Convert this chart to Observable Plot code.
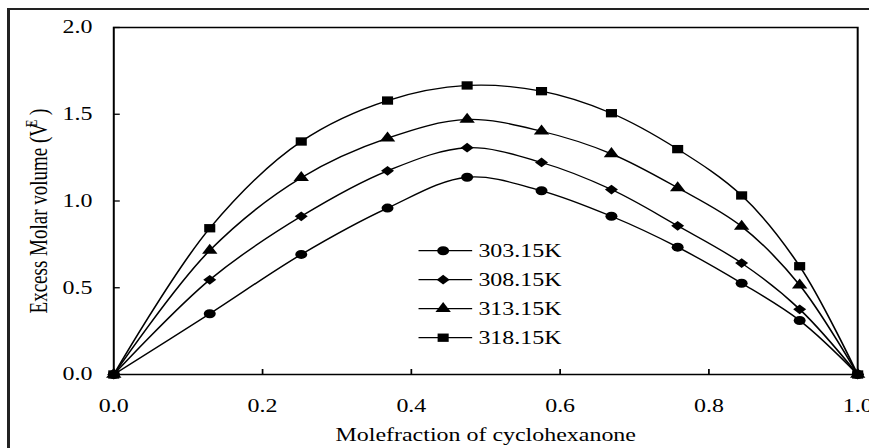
<!DOCTYPE html>
<html>
<head>
<meta charset="utf-8">
<script src="https://cdn.jsdelivr.net/npm/d3@7"></script>
<script src="https://cdn.jsdelivr.net/npm/@observablehq/plot@0.6"></script>
<style>
  body { margin: 0; background: #fff; }
  #wrap { position: relative; width: 869px; height: 448px; overflow: hidden; background: #fff; }
  #border { position: absolute; left: 7px; top: 8px; width: 1000px; height: 600px; border-left: 3px solid #222; border-top: 2px solid #222; }
  #chart { position: absolute; left: 0; top: 0; transform-origin: 0 0; }
</style>
</head>
<body>
<div id="wrap">
  <div id="border"></div>
  <div id="chart"></div>
</div>
<script>
// ---- data ----
const xValues = [0, 0.129, 0.252, 0.368, 0.475, 0.575, 0.669, 0.758, 0.844, 0.922, 1.0];
const v303 = [0, 0.350, 0.692, 0.959, 1.137, 1.059, 0.912, 0.734, 0.526, 0.311, 0];
const v308 = [0, 0.546, 0.912, 1.174, 1.307, 1.222, 1.066, 0.857, 0.642, 0.376, 0];
const v313 = [0, 0.715, 1.134, 1.362, 1.470, 1.402, 1.272, 1.076, 0.853, 0.515, 0];
const v318 = [0, 0.843, 1.343, 1.579, 1.666, 1.633, 1.506, 1.299, 1.032, 0.624, 0];
const seriesNames = ["303.15K", "308.15K", "313.15K", "318.15K"];
const seriesValues = [v303, v308, v313, v318];
const xTicks = [0, 0.2, 0.4, 0.6, 0.8, 1.0];
const yTicks = [0, 0.5, 1.0, 1.5, 2.0];
const xLabel = "Molefraction of cyclohexanone";
const yLabelMain = "Excess Molar volume (V";
const yLabelSup = "E";
const yLabelEnd = " )";

// ---- styling ----
const S = 1.33;                 // horizontal stretch of the original picture
const W = Math.round(869 / S), H = 448;
const symbols = ["circle", "diamond2", "triangle", "square"];
const d3symbols = [d3.symbolCircle, d3.symbolDiamond2, d3.symbolTriangle, d3.symbolSquare];
const symbolR = [4.5, 4.4, 4.3, 4.7];
const font = "'Liberation Serif', 'Times New Roman', serif";

const table = seriesNames.flatMap((name, i) =>
  xValues.map((x, j) => ({series: name, x, v: seriesValues[i][j]})));

const fmt = d3.format(".1f");

const marks = [
  Plot.frame({stroke: "#000", strokeWidth: 1.5}),
  Plot.axisX(xTicks, {tickSize: -5, tickFormat: () => "", label: null, strokeWidth: 1.3}),
  Plot.axisX(xTicks, {tickSize: 0, tickPadding: 25, tickFormat: fmt, label: null, fontSize: 18}),
  Plot.axisY(yTicks, {tickSize: -5, tickFormat: () => "", label: null, strokeWidth: 1.3}),
  Plot.axisY(yTicks, {tickSize: 0, tickPadding: 16, tickFormat: fmt, label: null, fontSize: 18}),
  Plot.text([xLabel], {frameAnchor: "bottom", dy: 66, lineAnchor: "bottom", fontSize: 18, fill: "#000"})
];
seriesNames.forEach((name, i) => {
  const d = table.filter(t => t.series === name);
  marks.push(Plot.line(d, {x: "x", y: "v", curve: "catmull-rom", stroke: "#000", strokeWidth: 1.3}));
  marks.push(Plot.dot(d, {x: "x", y: "v", symbol: symbols[i], r: symbolR[i], fill: "#000", stroke: "none"}));
});

const svg = Plot.plot({
  width: W,
  height: H,
  marginLeft: 85,
  marginRight: 9,
  marginTop: 27,
  marginBottom: 74,
  style: {fontFamily: font, fontSize: "18px", color: "#000", background: "transparent", overflow: "visible"},
  x: {domain: [0, 1], axis: null},
  y: {domain: [0, 2], axis: null},
  marks
});

// y-axis title with superscript
const sel = d3.select(svg);
const yt = sel.append("text")
  .attr("transform", "translate(35,211) rotate(-90)")
  .attr("text-anchor", "middle")
  .attr("font-family", font)
  .attr("font-size", 19)
  .attr("fill", "#000");
yt.append("tspan").text(yLabelMain);
yt.append("tspan").attr("font-size", 12).attr("dx", -4).attr("dy", -7).text(yLabelSup);
yt.append("tspan").attr("dy", 7).text(yLabelEnd);

// legend
const lg = sel.append("g").attr("font-family", font).attr("font-size", 18).attr("text-anchor", "start");
seriesNames.forEach((name, i) => {
  const y = 250.7 + 29 * i;
  const g = lg.append("g").attr("transform", `translate(0,${y})`);
  g.append("line").attr("x1", 314.5).attr("x2", 354.8).attr("y1", 0).attr("y2", 0)
    .attr("stroke", "#000").attr("stroke-width", 1.3);
  g.append("path").attr("transform", "translate(333,0)")
    .attr("d", d3.symbol(d3symbols[i], Math.PI * symbolR[i] * symbolR[i])())
    .attr("fill", "#000");
  g.append("text").attr("x", 359.5).attr("dy", "0.35em").attr("text-anchor", "start")
    .attr("fill", "#000").text(name);
});

const chart = document.getElementById("chart");
chart.style.transform = `scaleX(${869 / W})`;
chart.appendChild(svg);
</script>
</body>
</html>
